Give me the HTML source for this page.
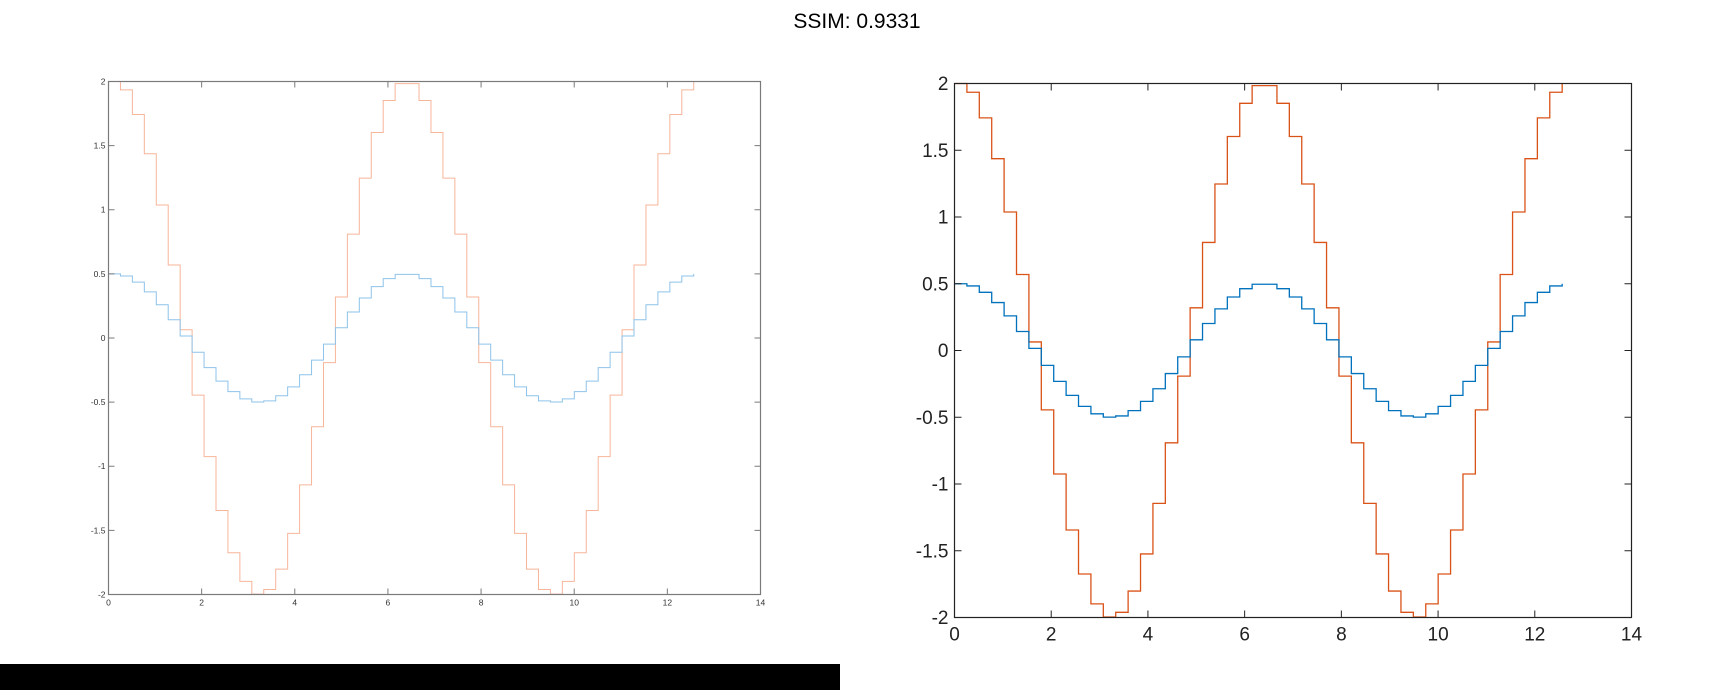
<!DOCTYPE html>
<html><head><meta charset="utf-8"><style>
html,body{margin:0;padding:0;background:#fff;}
svg{display:block;font-family:"Liberation Sans",sans-serif;}
</style></head><body>
<svg id="s" width="1715" height="690" viewBox="0 0 1715 690">
<text x="857" y="28" font-size="21" text-anchor="middle" fill="#000">SSIM: 0.9331</text>
<rect x="0" y="664" width="840" height="26" fill="#000"/>
</svg>
<script>
const xs=[0,0.2565,0.5129,0.7694,1.0258,1.2823,1.5387,1.7952,2.0517,2.3081,2.5646,2.8210,3.0775,3.3339,3.5904,3.8469,4.1033,4.3598,4.6162,4.8727,5.1291,5.3856,5.6421,5.8985,6.1550,6.4114,6.6679,6.9243,7.1808,7.4372,7.6937,7.9502,8.2066,8.4631,8.7195,8.9760,9.2324,9.4889,9.7454,10.0018,10.2583,10.5147,10.7712,11.0276,11.2841,11.5405,11.7970,12.0535,12.3099,12.5664];
const blueVals=[0.5,0.4836,0.4357,0.3592,0.2593,0.1423,0.0160,-0.1113,-0.2313,-0.3362,-0.4186,-0.4744,-0.4991,-0.4903,-0.4505,-0.3809,-0.2864,-0.1729,-0.0480,0.0799,0.2024,0.3117,0.4007,0.4629,0.4960,0.4960,0.4629,0.4007,0.3117,0.2024,0.0799,-0.0480,-0.1729,-0.2864,-0.3809,-0.4505,-0.4903,-0.4991,-0.4744,-0.4186,-0.3362,-0.2313,-0.1113,0.0160,0.1423,0.2593,0.3592,0.4357,0.4836,0.5];
const orangeVals=[2,1.9346,1.7426,1.4367,1.0374,0.5693,0.0641,-0.4450,-0.9251,-1.3446,-1.6743,-1.8977,-1.9966,-1.9613,-1.8019,-1.5237,-1.1454,-0.6916,-0.1920,0.3196,0.8096,1.2470,1.6028,1.8517,1.9839,1.9839,1.8517,1.6028,1.2470,0.8096,0.3196,-0.1920,-0.6916,-1.1454,-1.5237,-1.8019,-1.9613,-1.9966,-1.8977,-1.6743,-1.3446,-0.9251,-0.4450,0.0641,0.5693,1.0374,1.4367,1.7426,1.9346,2];
const xTicks=[0,2,4,6,8,10,12,14];
const yTicks=[-2,-1.5,-1,-0.5,0,0.5,1,1.5,2];
const yTickLabels=["-2","-1.5","-1","-0.5","0","0.5","1","1.5","2"];
const NS="http://www.w3.org/2000/svg";
const svg=document.getElementById('s');
function mk(t,a,p){const e=document.createElementNS(NS,t);for(const k in a)e.setAttribute(k,a[k]);(p||svg).appendChild(e);return e;}
function drawAxes(cfg){
  const g=mk('g',{});
  
  
  const sx=v=>cfg.l+(v-0)/(14-0)*(cfg.r-cfg.l);
  const sy=v=>cfg.b-(v+2)/4*(cfg.b-cfg.t);
  function stairs(vals,color,nm){
    let d='M'+sx(xs[0])+','+sy(vals[0]);
    for(let i=1;i<xs.length;i++){d+=' H'+sx(xs[i])+' V'+sy(vals[i]);}
    const p=mk('path',{d:d,fill:'none',stroke:color,'stroke-width':cfg.lw},g);
    
    
  }
  stairs(orangeVals,cfg.orange,'orange-stairs');
  stairs(blueVals,cfg.blue,'blue-stairs');
  const box=mk('rect',{x:cfg.l,y:cfg.t,width:cfg.r-cfg.l,height:cfg.b-cfg.t,fill:'none',stroke:cfg.axis,'stroke-width':1.2},g);
  
  
  const tl=cfg.tick;
  xTicks.forEach(v=>{
    const x=sx(v);
    mk('line',{x1:x,y1:cfg.b,x2:x,y2:cfg.b-tl,stroke:cfg.axis},g);
    mk('line',{x1:x,y1:cfg.t,x2:x,y2:cfg.t+tl,stroke:cfg.axis},g);
    const t=mk('text',{x:x,y:cfg.b+cfg.xoff,'font-size':cfg.fs,'text-anchor':'middle',fill:cfg.text},g);
    t.textContent=String(v);
    
    
  });
  yTicks.forEach((v,i)=>{
    const y=sy(v);
    mk('line',{x1:cfg.l,y1:y,x2:cfg.l+tl,y2:y,stroke:cfg.axis},g);
    mk('line',{x1:cfg.r,y1:y,x2:cfg.r-tl,y2:y,stroke:cfg.axis},g);
    const t=mk('text',{x:cfg.l-cfg.yoff,y:y+cfg.fs*0.35,'font-size':cfg.fs,'text-anchor':'end',fill:cfg.text},g);
    t.textContent=yTickLabels[i];
    
    
  });
}
drawAxes({name:'left-axes',l:108.5,r:760.5,t:81.5,b:594.5,lw:1,orange:'#f7b59a',blue:'#8ec3ea',axis:'#7a7a7a',text:'#333',fs:8.5,xoff:11,yoff:3,tick:6});
drawAxes({name:'right-axes',l:954.5,r:1631.5,t:83.5,b:617.5,lw:1.3,orange:'#D95319',blue:'#0072BD',axis:'#222',text:'#222',fs:19,xoff:23,yoff:6,tick:7});
</script>
</body></html>
